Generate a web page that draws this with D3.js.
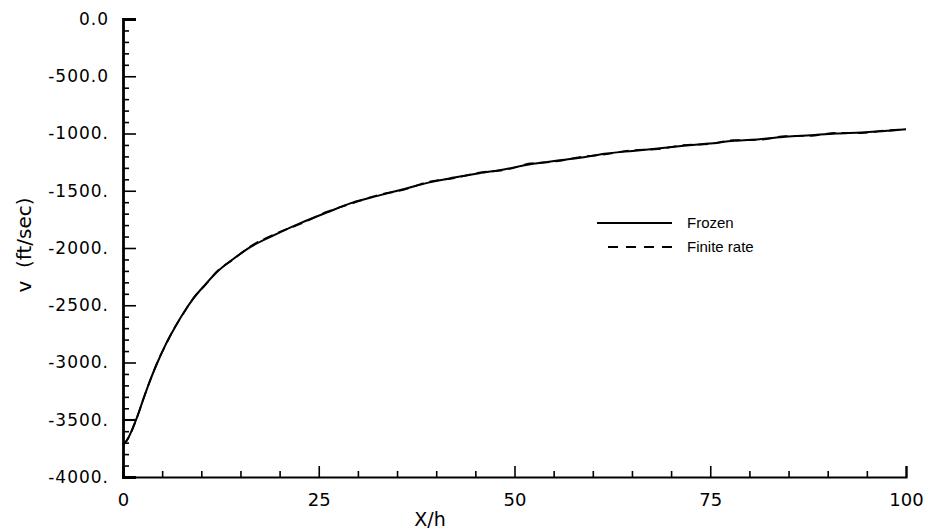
<!DOCTYPE html>
<html>
<head>
<meta charset="utf-8">
<script src="https://cdn.jsdelivr.net/npm/d3@7"></script>
<style>
    body { margin: 0; background: #fff; }
    svg { display: block; }
</style>
</head>
<body>
<svg width="928" height="530"></svg>
<script>
/////////////////////////////////
// Velocity v vs X/h, frozen and finite-rate.
//

// Curve samples.
const xh = [0, 0.5, 1.7, 2.6, 3.5, 4.4, 5.4, 6.5, 7.7, 9, 10.5, 12, 14, 16.3, 19.5, 22.8, 26, 29.3, 32.5, 35.8, 39, 42.3, 45.5, 48.8, 52, 55.3, 58.6, 61.8, 65.1, 68.3, 71.6, 74.8, 78.1, 81.3, 84.6, 87.8, 91.1, 94.3, 97.6, 100];
const frozen = [-3720, -3680, -3495, -3320, -3150, -3000, -2850, -2710, -2570, -2440, -2320, -2210, -2100, -1990, -1881, -1779, -1691, -1604, -1545, -1487, -1429, -1385, -1347, -1312, -1268, -1239, -1210, -1175, -1152, -1131, -1108, -1088, -1064, -1050, -1029, -1015, -1000, -991, -977, -962];
const finiteRate = [-3720, -3680, -3497, -3318, -3152, -2996, -2853, -2706, -2574, -2436, -2325, -2205, -2104, -1985, -1876, -1785, -1685, -1610, -1539, -1492, -1423, -1390, -1341, -1318, -1262, -1244, -1204, -1180, -1146, -1136, -1102, -1093, -1058, -1055, -1023, -1020, -995, -996, -972, -964];

// Short level line at the start of the curve.
const startX = [0, 1.7];
const startV = [-3500, -3500];

// Axis ticks.
const xMajor = [0, 25, 50, 75, 100];
const xMinor = [5, 10, 15, 20, 30, 35, 40, 45, 55, 60, 65, 70, 80, 85, 90, 95];
const yMajor = [0, -500, -1000, -1500, -2000, -2500, -3000, -3500, -4000];
const yMajorLabels = ["0.0", "-500.0", "-1000.", "-1500.", "-2000.", "-2500.", "-3000.", "-3500.", "-4000."];
const yMinor = yMajor.slice(0, -1).flatMap((v) => [v - 100, v - 200, v - 300, v - 400]);

const legendNames = ["Frozen", "Finite rate"];

document.addEventListener("DOMContentLoaded", () => {

    const svg = d3.select("svg");
    const tickFont = "'DejaVu Sans', sans-serif";

    const x = d3.scaleLinear().domain([0, 100]).range([123, 906]);
    const y = d3.scaleLinear().domain([-4000, 0]).range([477, 19]);

    // y axis: majors with labels, minors without.
    const yAxis = svg.append("g")
        .attr("transform", `translate(${x(0)},0)`)
        .call(d3.axisLeft(y)
            .tickValues(yMajor)
            .tickFormat((d, i) => yMajorLabels[i])
            .tickSize(-13)
            .tickPadding(14));
    svg.append("g")
        .attr("transform", `translate(${x(0)},0)`)
        .call(d3.axisLeft(y)
            .tickValues(yMinor)
            .tickFormat("")
            .tickSize(-6))
        .call((g) => g.select(".domain").remove());

    // x axis.
    const xAxis = svg.append("g")
        .attr("transform", `translate(0,${y(-4000)})`)
        .call(d3.axisBottom(x)
            .tickValues(xMajor)
            .tickSize(-11)
            .tickPadding(16));
    svg.append("g")
        .attr("transform", `translate(0,${y(-4000)})`)
        .call(d3.axisBottom(x)
            .tickValues(xMinor)
            .tickFormat("")
            .tickSize(-6))
        .call((g) => g.select(".domain").remove());

    svg.selectAll(".domain").attr("stroke-width", 2.2);
    svg.selectAll(".tick line").attr("stroke-width", 1.6);
    yAxis.select(".domain").attr("stroke-width", 2.8);
    svg.selectAll(".tick text")
        .attr("font-family", tickFont)
        .attr("font-size", 17)
        .attr("fill", "#000");
    yAxis.selectAll(".tick text").attr("letter-spacing", 1);
    xAxis.selectAll(".tick text").attr("font-size", 18);

    // Axis titles.
    svg.append("text")
        .attr("x", 430)
        .attr("y", 526)
        .attr("text-anchor", "middle")
        .attr("font-family", tickFont)
        .attr("font-size", 19)
        .text("X/h");

    svg.append("text")
        .attr("transform", "translate(31,245) rotate(-90)")
        .attr("text-anchor", "middle")
        .attr("font-family", tickFont)
        .attr("font-size", 20)
        .attr("xml:space", "preserve")
        .text("v  (ft/sec)");

    // Curves.
    const line = d3.line()
        .x((d) => x(d[0]))
        .y((d) => y(d[1]))
        .curve(d3.curveMonotoneX);

    svg.append("path")
        .datum(d3.zip(startX, startV))
        .attr("d", line)
        .attr("fill", "none")
        .attr("stroke", "#000")
        .attr("stroke-width", 1.6);

    svg.append("path")
        .datum(d3.zip(xh, frozen))
        .attr("d", line)
        .attr("fill", "none")
        .attr("stroke", "#000")
        .attr("stroke-width", 2);

    svg.append("path")
        .datum(d3.zip(xh, finiteRate))
        .attr("d", line)
        .attr("fill", "none")
        .attr("stroke", "#000")
        .attr("stroke-width", 1.8)
        .attr("stroke-dasharray", "10,6");

    // Legend.
    const legend = svg.append("g");
    const rows = [
        { x1: 597, x2: 672, y: 223, dash: null },
        { x1: 608, x2: 676, y: 247, dash: "10,8" }
    ];
    rows.forEach((r, i) => {

        legend.append("line")
            .attr("x1", r.x1)
            .attr("x2", r.x2)
            .attr("y1", r.y)
            .attr("y2", r.y)
            .attr("stroke", "#000")
            .attr("stroke-width", 2)
            .attr("stroke-dasharray", r.dash);
        legend.append("text")
            .attr("x", 687)
            .attr("y", r.y + 5)
            .attr("font-family", "'Liberation Sans', Arial, sans-serif")
            .attr("font-size", 15)
            .text(legendNames[i]);
    });
});
</script>
</body>
</html>
